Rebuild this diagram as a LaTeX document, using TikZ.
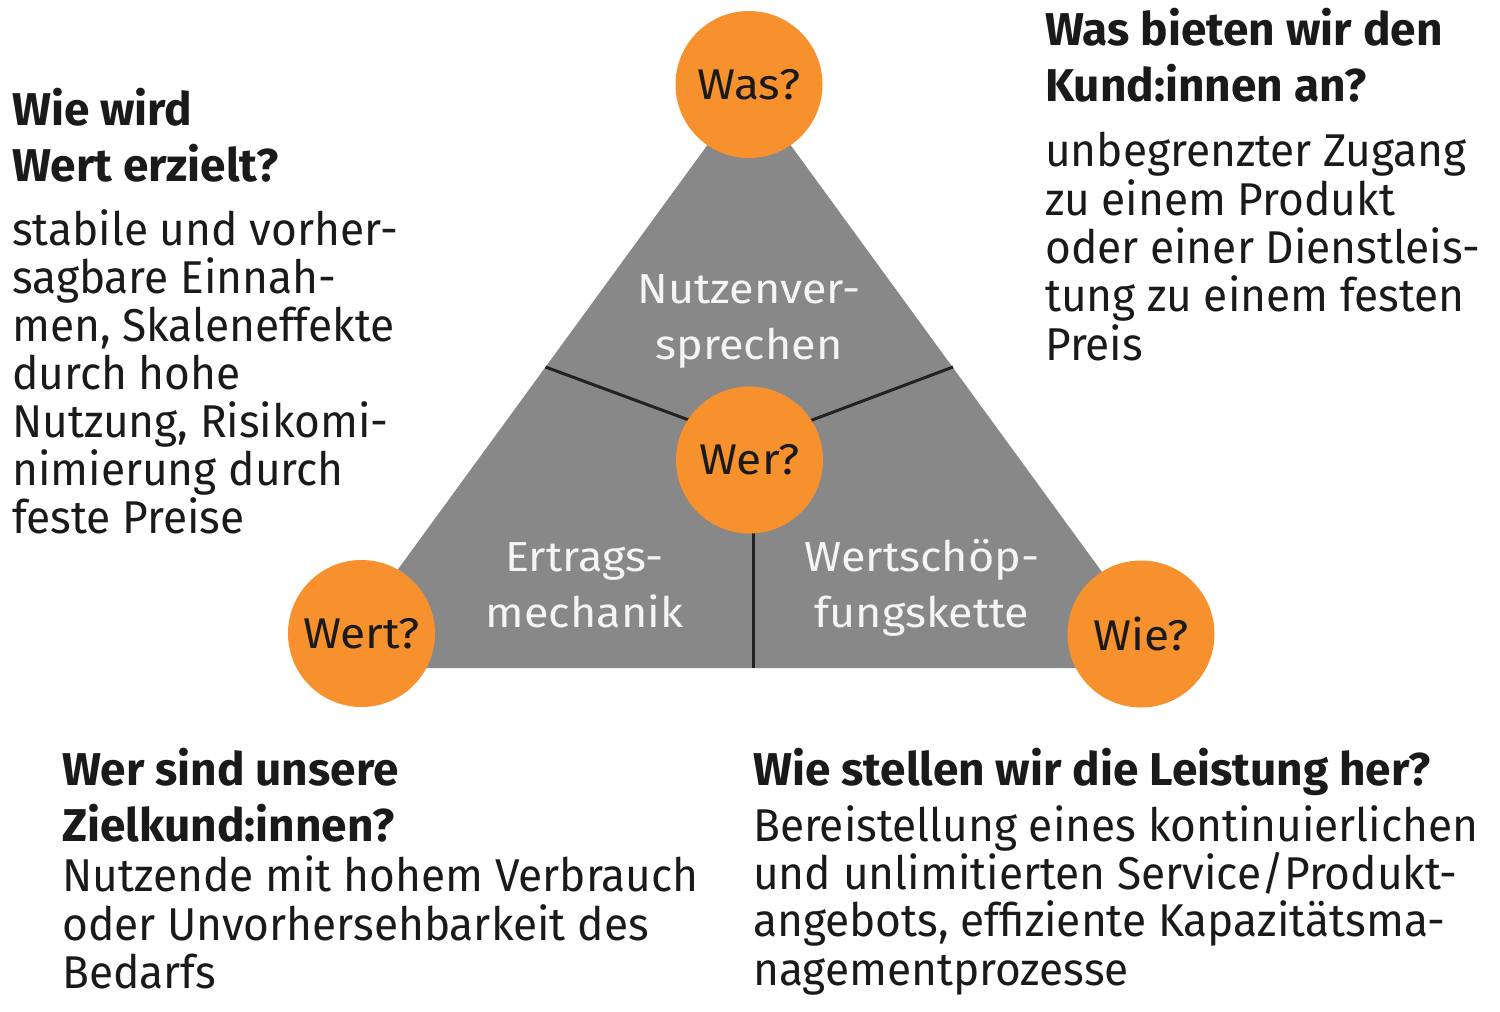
\documentclass[tikz,border=0pt]{standalone}
\usepackage{fontspec}
\setmainfont[FakeStretch=0.962]{Fira Sans}
\newfontfamily\headfont[FakeStretch=1.0]{Fira Sans}
\newfontfamily\labfont[FakeStretch=1.07]{Fira Sans}
\definecolor{orng}{HTML}{F6912E}
\definecolor{tri}{HTML}{888888}
\definecolor{txt}{HTML}{1A1A1A}
\definecolor{divl}{HTML}{222222}
\tikzset{
  body/.style={font=\fontsize{46}{48}\selectfont, anchor=base west, inner sep=0pt, text=txt},
  head/.style={font=\headfont\fontsize{46}{56}\selectfont\bfseries, anchor=base west, inner sep=0pt, text=txt},
  inlab/.style={font=\labfont\fontsize{42}{56}\selectfont, anchor=base, inner sep=0pt, text=white!96!black},
  bubble/.style={circle, fill=orng, minimum size=147pt, inner sep=0pt, text=txt, font=\labfont\fontsize{43}{48}\selectfont},
  divider/.style={draw=divl, line width=3pt}
}
\begin{document}
\begin{tikzpicture}[x=1pt,y=-1pt]
\useasboundingbox (0,0) rectangle (1500,1012);
% triangle
\coordinate (apex) at (749,88);
\coordinate (bl) at (326,668);
\coordinate (br) at (1172,668);
\fill[tri] (apex) -- (bl) -- (br) -- cycle;
% dividers
\coordinate (el) at (545.5,367);
\coordinate (er) at (953,367);
\coordinate (hub) at (751,443);
\coordinate (hubv) at (753,443);
\coordinate (eb) at (753,668);
\draw[divider] (el) -- (hub);
\draw[divider] (er) -- (hub);
\draw[divider] (hubv) -- (eb);
% inner labels
\node[inlab] (n1) at (749,303) {Nutzenver-};
\node[inlab] (n2) at (749,359.5) {sprechen};
\node[inlab] (e1) at (584.5,571.5) {Ertrags-};
\node[inlab] (e2) at (584.5,627) {mechanik};
\node[inlab] (w1) at (922,571.5) {Wertschöp-};
\node[inlab] (w2) at (922,627) {fungskette};
% bubbles
\node[bubble] (was) at (749,84.5) {Was?};
\node[bubble] (wer) at (749.5,460) {Wer?};
\node[bubble] (wert) at (361.5,633.5) {Wert?};
\node[bubble] (wie) at (1141,634) {Wie?};
% top-left block
\node[head] (tlh1) at (12,125.7) {Wie wird};
\node[head] (tlh2) at (12,181.7) {Wert erzielt?};
\node[body] (tlb1) at (12,245.7) {stabile und vorher-};
\node[body] (tlb2) at (12,293.7) {sagbare Einnah-};
\node[body] (tlb3) at (12,341.7) {men, Skaleneffekte};
\node[body] (tlb4) at (12,389.7) {durch hohe};
\node[body] (tlb5) at (12,437.7) {Nutzung, Risikomi-};
\node[body] (tlb6) at (12,485.7) {nimierung durch};
\node[body] (tlb7) at (12,533.7) {feste Preise};
% top-right block
\node[head] (trh1) at (1045,45) {Was bieten wir den};
\node[head] (trh2) at (1045,101.7) {Kund:innen an?};
\node[body] (trb1) at (1045,166.7) {unbegrenzter Zugang};
\node[body] (trb2) at (1045,215) {zu einem Produkt};
\node[body] (trb3) at (1045,263.3) {oder einer Dienstleis-};
\node[body] (trb4) at (1045,311.7) {tung zu einem festen};
\node[body] (trb5) at (1045,360) {Preis};
% bottom-left block
\node[head] (blh1) at (62,785) {Wer sind unsere};
\node[head] (blh2) at (62,841.7) {Zielkund:innen?};
\node[body] (blb1) at (62,891.7) {Nutzende mit hohem Verbrauch};
\node[body] (blb2) at (62,940) {oder Unvorhersehbarkeit des};
\node[body] (blb3) at (62,988.3) {Bedarfs};
% bottom-right block
\node[head] (brh1) at (753,785) {Wie stellen wir die Leistung her?};
\node[body] (brb1) at (753,841.7) {Bereistellung eines kontinuierlichen};
\node[body] (brb2) at (753,889.3) {und unlimitierten Service/Produkt-};
\node[body] (brb3) at (753,936.7) {angebots, effiziente Kapazitätsma-};
\node[body] (brb4) at (753,985) {nagementprozesse};
\end{tikzpicture}
\end{document}
